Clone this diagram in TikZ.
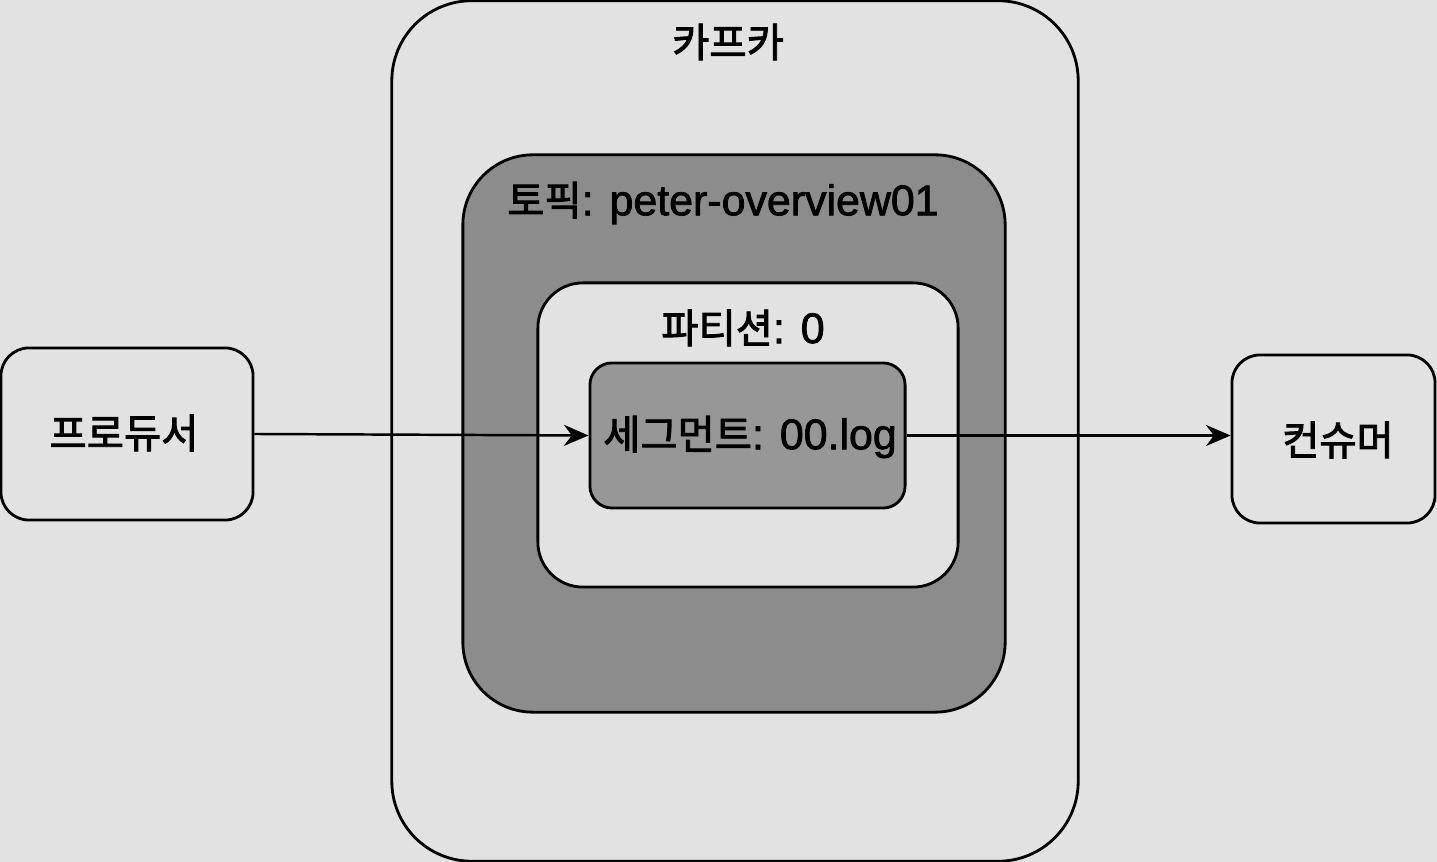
\documentclass[tikz,border=0pt]{standalone}
\usepackage{fontspec}
\newfontfamily\kr{Noto Sans CJK KR}[RawFeature={embolden=2.2}]
\newfontfamily\lat{Liberation Sans}[RawFeature={embolden=1.8}]
\usetikzlibrary{arrows.meta}
\definecolor{paper}{HTML}{E2E2E2}
\definecolor{topicgray}{HTML}{8C8C8C}
\definecolor{seggray}{HTML}{979797}
\tikzset{
  box/.style={draw=black, line width=0.8pt, inner sep=0pt},
  lbl/.style={inner sep=0pt, font=\fontsize{11.5}{13}\selectfont},
  flow/.style={draw=black, line width=0.7pt, -{Stealth[length=7pt,width=6pt]}}
}
\begin{document}
\begin{tikzpicture}[x=0.01cm,y=-0.01cm]
\useasboundingbox (0,0) rectangle (1437,862);
\clip (0,0) rectangle (1437,862);
\fill[paper] (0,0) rectangle (1437,862);
% boxes
\node[box, fill=paper, rounded corners=0.8cm, minimum width=6.86cm, minimum height=8.60cm] (kafka) at (735,431) {};
\node[box, fill=topicgray, rounded corners=0.7cm, minimum width=5.42cm, minimum height=5.57cm] (topic) at (734,433.5) {};
\node[box, fill=paper, rounded corners=0.45cm, minimum width=4.20cm, minimum height=3.04cm] (part) at (748,435) {};
\node[box, fill=seggray, rounded corners=0.22cm, minimum width=3.15cm, minimum height=1.45cm] (seg) at (747.5,435.5) {};
\node[box, fill=paper, rounded corners=0.28cm, minimum width=2.52cm, minimum height=1.72cm] (prod) at (127,434) {};
\node[box, fill=paper, rounded corners=0.28cm, minimum width=2.03cm, minimum height=1.68cm] (cons) at (1333.5,439) {};
% labels
\node[lbl] (kafkalbl) at (728,42) {\kr 카프카};
\node[lbl] (topiclbl) at (723,203) {{\kr 토픽}{\lat\fontsize{12.2}{13}\selectfont : peter-overview01}};
\node[lbl] (partlbl) at (743,328) {{\kr 파티션}{\lat\fontsize{12.2}{13}\selectfont : 0}};
\node[lbl] (seglbl) at (750,437) {{\kr 세그먼트}{\lat\fontsize{12.2}{13}\selectfont : 00.log}};
\node[lbl] (prodlbl) at (124,433) {\kr 프로듀서};
\node[lbl] (conslbl) at (1338,440) {\kr 컨슈머};
% connectors
\draw[flow] (prod.east) -- (seg.west);
\draw[flow] (seg.east) -- (seg.east -| cons.west);
\end{tikzpicture}
\end{document}
